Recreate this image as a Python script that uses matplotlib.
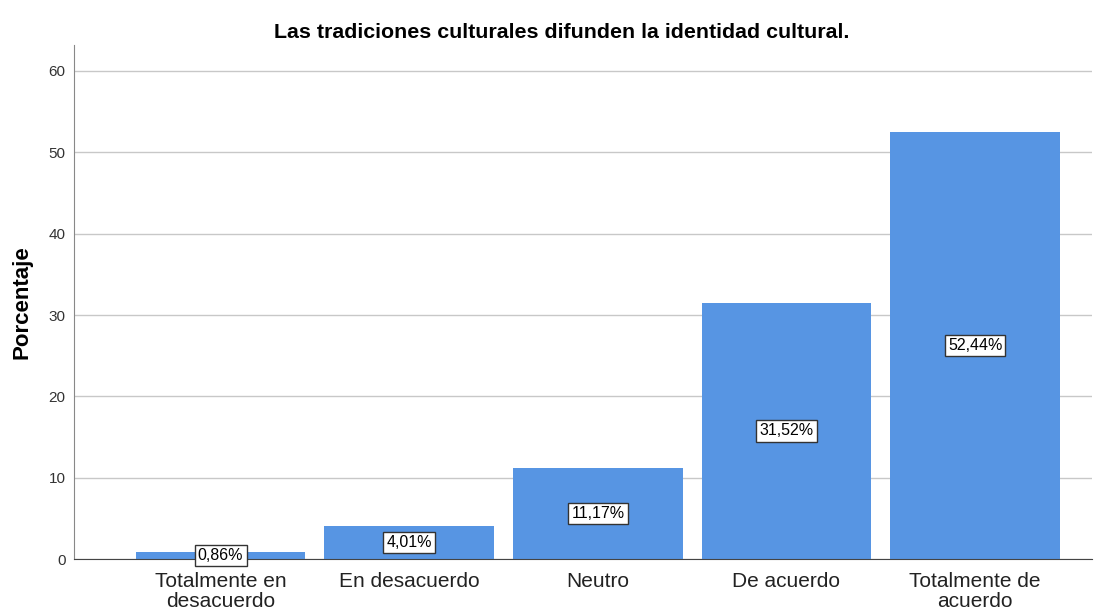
import matplotlib.pyplot as plt

plt.rcParams['font.family'] = ['Liberation Sans', 'DejaVu Sans']

categories = ['Totalmente en\ndesacuerdo', 'En desacuerdo', 'Neutro',
              'De acuerdo', 'Totalmente de\nacuerdo']
percentages = [0.86, 4.01, 11.17, 31.52, 52.44]
value_labels = ['0,86%', '4,01%', '11,17%', '31,52%', '52,44%']
y_ticks = [0, 10, 20, 30, 40, 50, 60]

fig = plt.figure(figsize=(11.08, 6.11), dpi=100)
ax = fig.add_axes([0.0668, 0.0851, 0.9188, 0.8413])

x = list(range(len(categories)))
bars = ax.bar(x, percentages, width=0.9, color='#5795e3', zorder=2)

for bar, label in zip(bars, value_labels):
    ax.text(bar.get_x() + bar.get_width() / 2, bar.get_height() / 2, label,
            ha='center', va='center', fontsize=11.5, zorder=3,
            bbox=dict(boxstyle='square,pad=0.2', fc='white', ec='#333333', lw=1))

ax.set_xlim(-0.777, 4.62)
ax.set_ylim(0, 63.2)
ax.set_yticks(y_ticks)
ax.set_xticks(x)
ax.set_xticklabels(categories, fontsize=15, linespacing=1.12, color='#222222')
ax.tick_params(axis='y', labelsize=11, length=0, pad=6, labelcolor='#333333')
ax.tick_params(axis='x', length=0, pad=9)
ax.yaxis.grid(True, color='#c8c8c8', lw=1, zorder=0)
ax.set_axisbelow(True)

for side in ['top', 'right']:
    ax.spines[side].set_visible(False)
ax.spines['left'].set_color('#888888')
ax.spines['bottom'].set_color('#444444')

ax.set_ylabel('Porcentaje', fontsize=16, fontweight='bold', labelpad=12)
fig.suptitle('Las tradiciones culturales difunden la identidad cultural.',
             x=0.507, y=0.962, fontsize=15.4, fontweight='bold', va='top')

fig.savefig('out.png', dpi=100)
